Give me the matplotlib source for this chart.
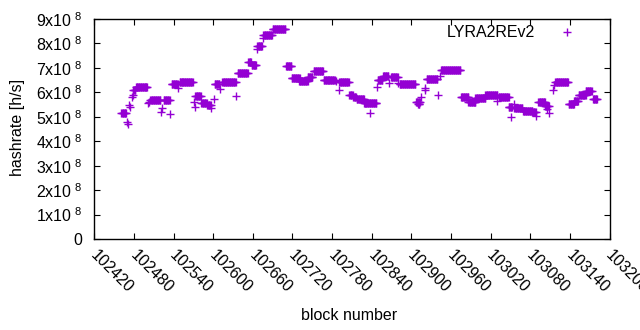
import numpy as np
import matplotlib
matplotlib.use('Agg')
import matplotlib.pyplot as plt
import matplotlib.transforms as mtransforms
from matplotlib.ticker import FuncFormatter, MultipleLocator

# hashrate per block (units of 1e8 h/s)
# stretches where the rate stays flat: first block, last block, rate
run_first = [102461, 102479, 102483, 102505, 102525, 102537, 102549, 102573, 102582, 102591,
             102602, 102614, 102637, 102653, 102658, 102667, 102676, 102690, 102710, 102719,
             102730, 102743, 102752, 102767, 102791, 102806, 102812, 102817, 102828, 102849,
             102857, 102869, 102882, 102907, 102910, 102923, 102945, 102975, 102986, 102997,
             103012, 103032, 103047, 103056, 103069, 103083, 103092, 103102, 103118, 103138,
             103146, 103153, 103164, 103175]
run_last = [102468, 102482, 102500, 102520, 102534, 102546, 102569, 102581, 102590, 102596,
            102609, 102634, 102652, 102657, 102665, 102674, 102689, 102709, 102718, 102731,
            102743, 102750, 102766, 102784, 102805, 102811, 102816, 102828, 102847, 102856,
            102865, 102878, 102906, 102913, 102912, 102939, 102974, 102986, 102997, 103012,
            103030, 103047, 103052, 103068, 103083, 103088, 103102, 103108, 103137, 103146,
            103152, 103164, 103173, 103181]
run_rate = [5.14, 6.08, 6.21, 5.69, 5.69, 6.33, 6.41, 5.86, 5.58, 5.50,
            6.34, 6.41, 6.78, 7.25, 7.12, 7.90, 8.36, 8.58, 7.07, 6.60,
            6.48, 6.63, 6.87, 6.51, 6.42, 5.91, 5.81, 5.73, 5.58, 6.49,
            6.68, 6.62, 6.34, 5.61, 5.53, 6.53, 6.90, 5.80, 5.61, 5.78,
            5.88, 5.81, 5.38, 5.34, 5.24, 5.18, 5.61, 5.46, 6.41, 5.51,
            5.66, 5.89, 6.06, 5.73]

# isolated blocks
single_block = [102470, 102471, 102473, 102474, 102477, 102478, 102502, 102503, 102521, 102523,
                102535, 102547, 102571, 102572, 102597, 102601, 102610, 102635, 102666, 102675,
                102786, 102790, 102838, 102848, 102866, 102879, 102880, 102915, 102920, 102921,
                102940, 102943, 103030, 103051, 103055, 103089, 103106, 103109, 103114, 103116]
single_rate = [4.80, 4.70, 5.50, 5.42, 5.82, 5.90, 5.55, 5.62, 5.21, 5.35,
               5.10, 6.17, 5.62, 5.41, 5.36, 5.72, 6.12, 5.86, 7.76, 8.21,
               6.45, 6.10, 5.14, 6.23, 6.40, 6.37, 6.64, 5.82, 6.17, 6.10,
               5.89, 6.67, 5.65, 5.00, 5.52, 5.03, 5.31, 5.17, 6.10, 6.30]

blocks = []
rates = []
for a, b, r in zip(run_first, run_last, run_rate):
    for blk in range(a, b + 1):
        blocks.append(blk)
        rates.append(r)
blocks += single_block
rates += single_rate
blocks = np.array(blocks)
rates = np.array(rates) * 1e8

plt.rcParams['font.family'] = ['Liberation Sans', 'DejaVu Sans']
plt.rcParams['font.size'] = 11.5
plt.rcParams['mathtext.fontset'] = 'custom'
plt.rcParams['mathtext.rm'] = 'Liberation Sans'
plt.rcParams['mathtext.default'] = 'regular'

fig = plt.figure(figsize=(6.4, 3.3), dpi=100)
ax = fig.add_axes([94.3 / 640, 91 / 330, 515.3 / 640, 220 / 330])

ax.plot(blocks, rates, '+', color='#9400d3', markersize=5.5, markeredgewidth=1.0,
        label='LYRA2REv2')

ax.set_xlim(102420, 103200)
ax.set_ylim(0, 9e8)
ax.xaxis.set_major_locator(MultipleLocator(60))
ax.yaxis.set_major_locator(MultipleLocator(1e8))


def ylab(v, pos):
    n = int(round(v / 1e8))
    if n == 0:
        return '0'
    return '%dx10$^{\\ 8}$' % n


ax.yaxis.set_major_formatter(FuncFormatter(ylab))
ax.xaxis.set_major_formatter(FuncFormatter(lambda v, p: '%d' % v))
ax.tick_params(direction='in', length=4, width=0.8, top=True, right=True, colors='black')
ax.tick_params(axis='y', pad=9)
ax.tick_params(axis='x', pad=6)
# nudge rotated x labels a little to the right, like gnuplot does
shift = mtransforms.ScaledTranslation(4 / 100, 0, fig.dpi_scale_trans)
for lbl in ax.get_xticklabels():
    lbl.set_rotation(-45)
    lbl.set_ha('left')
    lbl.set_va('top')
    lbl.set_rotation_mode('anchor')
    lbl.set_transform(lbl.get_transform() + shift)
for s in ax.spines.values():
    s.set_linewidth(1.0)

ax.set_xlabel('block number')
ax.xaxis.set_label_coords(0.494, -0.35)
ax.xaxis.label.set_va('center')
ax.set_ylabel('hashrate [h/s]')
ax.yaxis.set_label_coords(-0.150, 0.505)
ax.yaxis.label.set_va('center')

ax.legend(loc='upper right', bbox_to_anchor=(0.980, 0.971), markerfirst=False, frameon=False,
          borderpad=0, borderaxespad=0, handlelength=4, handletextpad=0.0)

fig.savefig('out.png', dpi=100)
